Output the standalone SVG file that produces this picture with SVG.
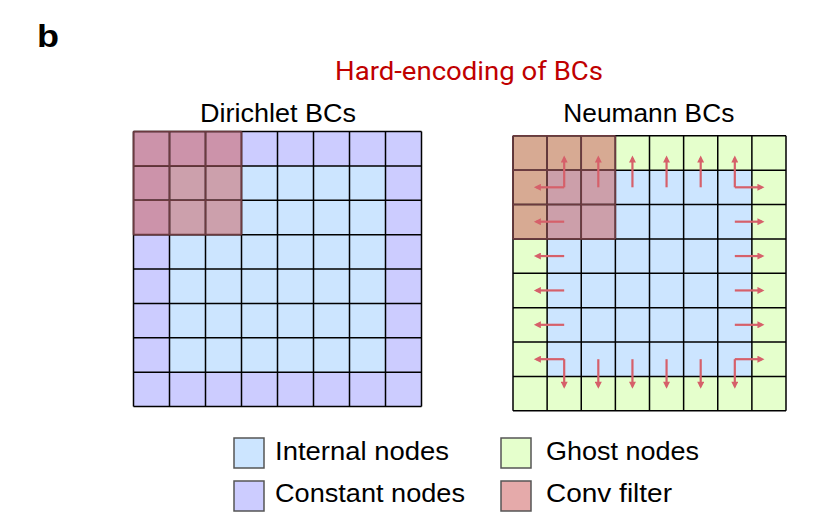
<svg xmlns="http://www.w3.org/2000/svg" width="824" height="530" viewBox="0 0 824 530">
<style>
.t{font-family:"Liberation Sans",Arial,sans-serif;fill:#000}
.grid{fill:none;stroke:#000;stroke-width:1.5}
.fgrid{fill:none;stroke:#6B3A3F;stroke-width:1.6}
.arr{stroke:#D6606A;stroke-width:2.2;fill:none;marker-end:url(#ah)}
.box{stroke:#555;stroke-width:1.5}
</style>
<defs>
<marker id="ah" viewBox="0 0 10 10" refX="6.5" refY="5" markerWidth="8" markerHeight="7" markerUnits="userSpaceOnUse" orient="auto">
<path d="M0,0 L10,5 L0,10 z" fill="#D6606A"/>
</marker>
</defs>
<rect width="824" height="530" fill="#fff"/>
<text class="t" x="37" y="47" font-size="31" font-weight="bold" textLength="22" lengthAdjust="spacingAndGlyphs">b</text>
<text x="335" y="80" font-family="Roboto,'Liberation Sans',sans-serif" font-size="25" fill="#C00000" textLength="268" lengthAdjust="spacingAndGlyphs">Hard-encoding of BCs</text>

<g id="dirichlet">
<text class="t" x="200" y="122.3" font-size="25" textLength="156" lengthAdjust="spacingAndGlyphs">Dirichlet BCs</text>
<rect x="133.5" y="131.5" width="288" height="275" fill="#CCCCFF"/>
<rect x="169.5" y="165.875" width="216" height="206.25" fill="#CCE5FF"/>
<rect x="133.5" y="131.5" width="108" height="103.125" fill="#CC93AA"/>
<rect x="169.5" y="165.875" width="72" height="68.75" fill="#CCA0AC"/>
<path class="grid" d="M133.5,131.5V406.5M169.5,131.5V406.5M205.5,131.5V406.5M241.5,131.5V406.5M277.5,131.5V406.5M313.5,131.5V406.5M349.5,131.5V406.5M385.5,131.5V406.5M421.5,131.5V406.5M133.5,131.5H421.5M133.5,165.875H421.5M133.5,200.25H421.5M133.5,234.625H421.5M133.5,269H421.5M133.5,303.375H421.5M133.5,337.75H421.5M133.5,372.125H421.5M133.5,406.5H421.5"/>
<path class="fgrid" d="M133.5,131.5V234.625M169.5,131.5V234.625M205.5,131.5V234.625M241.5,131.5V234.625M133.5,131.5H241.5M133.5,165.875H241.5M133.5,200.25H241.5M133.5,234.625H241.5"/>
</g>

<g id="neumann">
<text class="t" x="563.3" y="122.3" font-size="25" textLength="171" lengthAdjust="spacingAndGlyphs">Neumann BCs</text>
<rect x="513" y="135.75" width="273" height="275" fill="#E5FFCC"/>
<rect x="547.125" y="170.125" width="204.75" height="206.25" fill="#CCE5FF"/>
<rect x="513" y="135.75" width="102.375" height="103.125" fill="#D7AA93"/>
<rect x="547.125" y="170.125" width="68.25" height="68.75" fill="#CC9FAA"/>
<path class="grid" d="M513,135.75V410.75M547.125,135.75V410.75M581.25,135.75V410.75M615.375,135.75V410.75M649.5,135.75V410.75M683.625,135.75V410.75M717.75,135.75V410.75M751.875,135.75V410.75M786,135.75V410.75M513,135.75H786M513,170.125H786M513,204.5H786M513,238.875H786M513,273.25H786M513,307.625H786M513,342H786M513,376.375H786M513,410.75H786"/>
<path class="fgrid" d="M513,135.75V238.875M547.125,135.75V238.875M581.25,135.75V238.875M615.375,135.75V238.875M513,135.75H615.375M513,170.125H615.375M513,204.5H615.375M513,238.875H615.375"/>
</g>

<g id="connectors">
<line class="arr" x1="564.19" y1="187.3" x2="564.19" y2="158"/>
<line class="arr" x1="598.31" y1="187.3" x2="598.31" y2="158"/>
<line class="arr" x1="632.44" y1="187.3" x2="632.44" y2="158"/>
<line class="arr" x1="666.56" y1="187.3" x2="666.56" y2="158"/>
<line class="arr" x1="700.69" y1="187.3" x2="700.69" y2="158"/>
<line class="arr" x1="734.81" y1="187.3" x2="734.81" y2="158"/>
<line class="arr" x1="564.19" y1="359.2" x2="564.19" y2="386.3"/>
<line class="arr" x1="598.31" y1="359.2" x2="598.31" y2="386.3"/>
<line class="arr" x1="632.44" y1="359.2" x2="632.44" y2="386.3"/>
<line class="arr" x1="666.56" y1="359.2" x2="666.56" y2="386.3"/>
<line class="arr" x1="700.69" y1="359.2" x2="700.69" y2="386.3"/>
<line class="arr" x1="734.81" y1="359.2" x2="734.81" y2="386.3"/>
<line class="arr" x1="564.19" y1="187.31" x2="536.3" y2="187.31"/>
<line class="arr" x1="564.19" y1="221.69" x2="536.3" y2="221.69"/>
<line class="arr" x1="564.19" y1="256.06" x2="536.3" y2="256.06"/>
<line class="arr" x1="564.19" y1="290.44" x2="536.3" y2="290.44"/>
<line class="arr" x1="564.19" y1="324.81" x2="536.3" y2="324.81"/>
<line class="arr" x1="564.19" y1="359.19" x2="536.3" y2="359.19"/>
<line class="arr" x1="734.81" y1="187.31" x2="762" y2="187.31"/>
<line class="arr" x1="734.81" y1="221.69" x2="762" y2="221.69"/>
<line class="arr" x1="734.81" y1="256.06" x2="762" y2="256.06"/>
<line class="arr" x1="734.81" y1="290.44" x2="762" y2="290.44"/>
<line class="arr" x1="734.81" y1="324.81" x2="762" y2="324.81"/>
<line class="arr" x1="734.81" y1="359.19" x2="762" y2="359.19"/>
</g>

<g id="legend-internal">
<rect class="box" x="234" y="438" width="30" height="30" fill="#CCE5FF"/>
<text class="t" x="275" y="460" font-size="26" textLength="174" lengthAdjust="spacingAndGlyphs">Internal nodes</text>
</g>
<g id="legend-constant">
<rect class="box" x="234" y="481" width="30" height="30" fill="#CCCCFF"/>
<text class="t" x="275" y="502" font-size="26" textLength="190" lengthAdjust="spacingAndGlyphs">Constant nodes</text>
</g>
<g id="legend-ghost">
<rect class="box" x="501" y="438" width="30" height="30" fill="#E5FFCC"/>
<text class="t" x="546" y="460" font-size="26" textLength="153" lengthAdjust="spacingAndGlyphs">Ghost nodes</text>
</g>
<g id="legend-conv">
<rect class="box" x="501" y="481" width="30" height="30" fill="#E5AAAA"/>
<text class="t" x="546" y="502" font-size="26" textLength="126" lengthAdjust="spacingAndGlyphs">Conv filter</text>
</g>
</svg>
